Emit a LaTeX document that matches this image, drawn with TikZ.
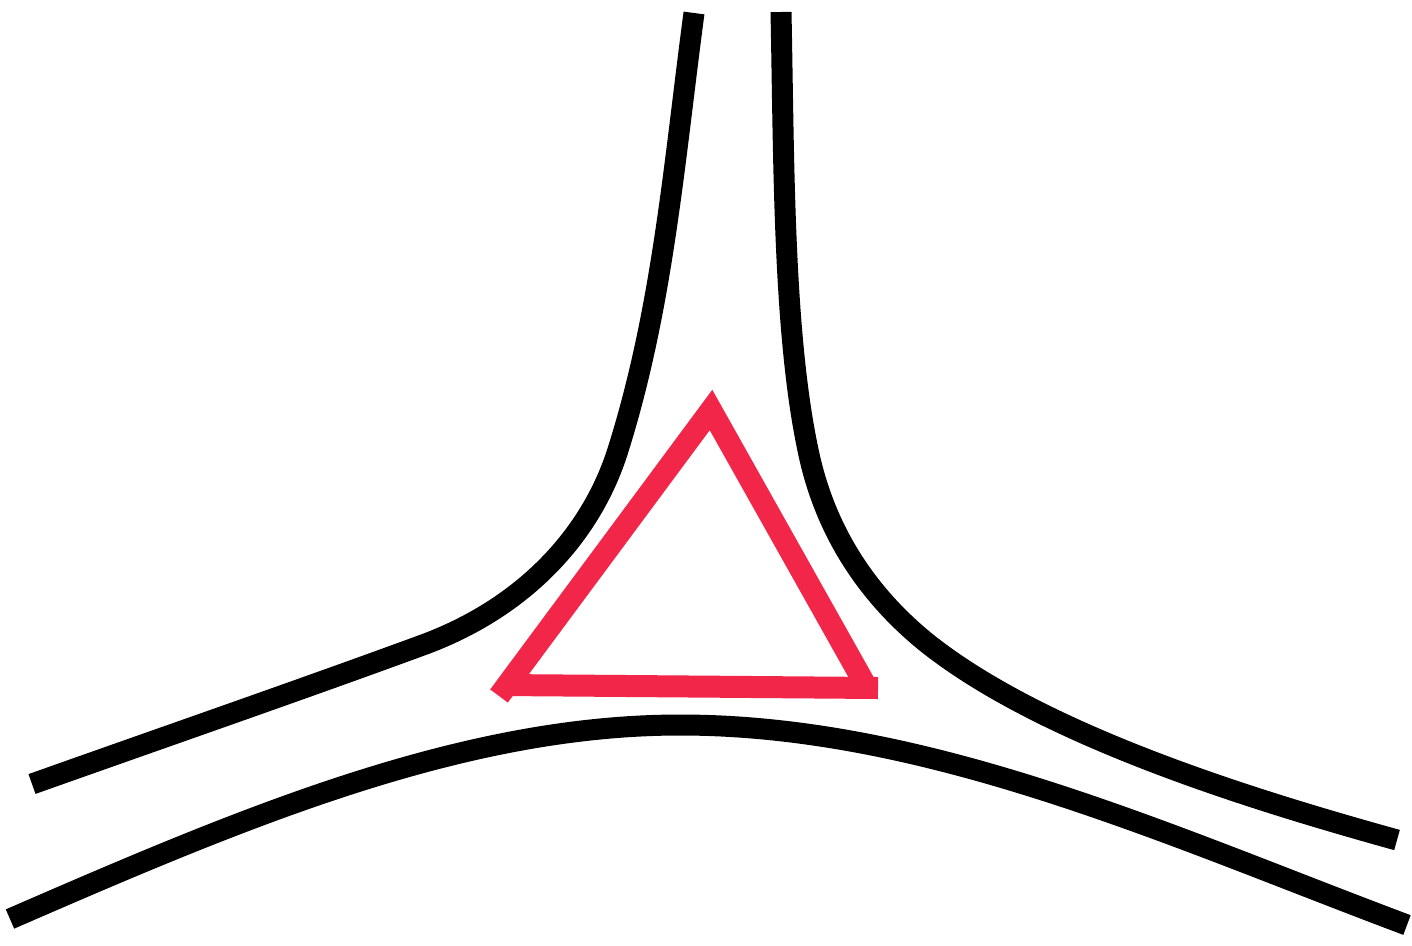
\documentclass[tikz,border=0pt]{standalone}
\definecolor{tri}{RGB}{242,38,72}
\begin{document}
\begin{tikzpicture}[x=1pt,y=-1pt,
  road/.style={line width=21pt,black,line cap=butt},
  tripart/.style={line width=22pt,tri,line cap=butt,line join=miter}]
\useasboundingbox[fill=white] (0,0) rectangle (1412,945);
% left curve
\coordinate (l0) at (32,784);
\coordinate (l1) at (420,646);
\coordinate (l2) at (618,450);
\coordinate (l3) at (694,13);
\draw[road] (l0) .. controls (170,735) and (300,690) .. (l1)
  .. controls (523,609) and (591,536) .. (l2)
  .. controls (663,307) and (674,163) .. (l3);
% right curve
\coordinate (r0) at (781,12);
\coordinate (r1) at (808,450);
\coordinate (r2) at (927,643);
\coordinate (r3) at (1397,840);
\draw[road] (r0) .. controls (784,160) and (783,332) .. (r1)
  .. controls (824,528) and (865,593) .. (r2)
  .. controls (1044,736) and (1253,800) .. (r3);
% bottom curve
\coordinate (b0) at (10,919);
\coordinate (b1) at (680,725);
\coordinate (b2) at (1407,925);
\draw[road] (b0) .. controls (240,819) and (460,725) .. (b1)
  .. controls (930,725) and (1172,837) .. (b2);
% triangle
\coordinate (tl) at (499,696);
\coordinate (ta) at (711,410);
\coordinate (tr) at (866,686);
\coordinate (bl) at (502,685);
\coordinate (br) at (878,688);
\draw[tripart] (tl) -- (ta) -- (tr);
\draw[tripart] (bl) -- (br);
\end{tikzpicture}
\end{document}
